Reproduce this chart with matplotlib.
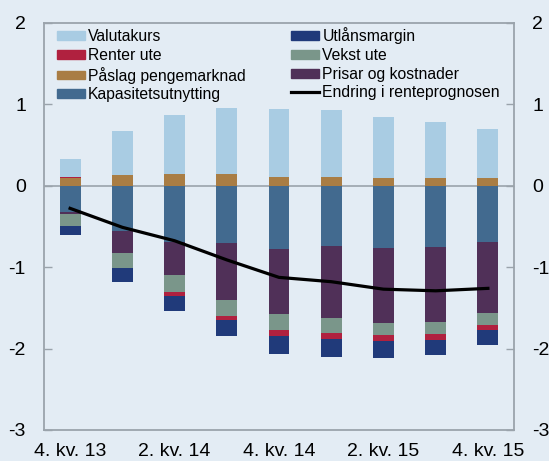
import numpy as np
import matplotlib
matplotlib.use("Agg")
import matplotlib.pyplot as plt
from matplotlib.lines import Line2D
from matplotlib.patches import Patch

plt.rcParams["font.family"] = ["Liberation Sans", "DejaVu Sans"]

# ---- data ----
quarters = ["4. kv. 13", "1. kv. 14", "2. kv. 14", "3. kv. 14", "4. kv. 14",
            "1. kv. 15", "2. kv. 15", "3. kv. 15", "4. kv. 15"]
tick_idx = [0, 2, 4, 6, 8]
tick_labels = ["4. kv. 13", "2. kv. 14", "4. kv. 14", "2. kv. 15", "4. kv. 15"]

valutakurs = [0.215, 0.547, 0.721, 0.815, 0.835, 0.823, 0.753, 0.691, 0.602]
renter_pos = [0.012, 0.0, 0.0, 0.0, 0.0, 0.0, 0.0, 0.0, 0.0]
paaslag = [0.10, 0.13, 0.145, 0.145, 0.112, 0.104, 0.096, 0.096, 0.096]
kapasitet = [-0.325, -0.555, -0.687, -0.707, -0.776, -0.743, -0.764, -0.748, -0.69]
prisar = [-0.025, -0.275, -0.409, -0.696, -0.804, -0.887, -0.916, -0.925, -0.876]
vekst = [-0.15, -0.18, -0.204, -0.197, -0.19, -0.18, -0.157, -0.143, -0.14]
renter_neg = [0.0, 0.0, -0.05, -0.05, -0.08, -0.076, -0.073, -0.074, -0.069]
utlaan = [-0.11, -0.175, -0.19, -0.2, -0.22, -0.214, -0.205, -0.19, -0.185]
renteprognose = [-0.277, -0.51, -0.675, -0.91, -1.125, -1.178, -1.27, -1.29, -1.26]

c_valuta = "#a9cce3"
c_renter = "#b0213f"
c_paaslag = "#a97d44"
c_kap = "#426a8f"
c_utlaan = "#203a7a"
c_vekst = "#7a968a"
c_prisar = "#503058"
bg = "#e3ecf4"
grey = "#9aa3ab"

x = np.arange(len(quarters))
w = 0.4

fig = plt.figure(figsize=(5.49, 4.61), dpi=100, facecolor=bg)
ax = fig.add_axes([44 / 549, 31 / 461, 470 / 549, 407 / 461], facecolor=bg)

ax.axhline(0, color=grey, lw=1.2, zorder=0)

# positive stack
pos = np.zeros(len(x))
for vals, col in [(paaslag, c_paaslag), (renter_pos, c_renter), (valutakurs, c_valuta)]:
    ax.bar(x, vals, w, bottom=pos, color=col, zorder=2)
    pos += np.array(vals)

# negative stack
neg = np.zeros(len(x))
for vals, col in [(kapasitet, c_kap), (prisar, c_prisar), (vekst, c_vekst),
                  (renter_neg, c_renter), (utlaan, c_utlaan)]:
    ax.bar(x, vals, w, bottom=neg, color=col, zorder=2)
    neg += np.array(vals)

ax.plot(x, renteprognose, color="black", lw=2.3, zorder=3)

ax.set_xlim(-0.5, 8.5)
ax.set_ylim(-3, 2)
ax.set_yticks([-3, -2, -1, 0, 1, 2])
ax.set_yticklabels(["-3", "-2", "-1", "0", "1", "2"])
ax.set_xticks(tick_idx)
ax.set_xticklabels(tick_labels)
ax.tick_params(axis="y", direction="in", length=6, width=1, color=grey,
               labelsize=14, pad=13, left=True, right=True,
               labelleft=True, labelright=True)
ax.tick_params(axis="x", length=0, labelsize=14, pad=9.5)
for s in ax.spines.values():
    s.set_color(grey)
    s.set_linewidth(1.3)

handles = [
    Patch(color=c_valuta, label="Valutakurs"),
    Patch(color=c_renter, label="Renter ute"),
    Patch(color=c_paaslag, label="Påslag pengemarknad"),
    Patch(color=c_kap, label="Kapasitetsutnytting"),
    Patch(color=c_utlaan, label="Utlånsmargin"),
    Patch(color=c_vekst, label="Vekst ute"),
    Patch(color=c_prisar, label="Prisar og kostnader"),
    Line2D([], [], color="black", lw=2.3, label="Endring i renteprognosen"),
]
ax.legend(handles=handles, ncol=2, loc="upper left",
          bbox_to_anchor=(0.021, 0.9975),
          frameon=False, fontsize=11.3, handlelength=1.78, handleheight=0.5,
          handletextpad=0.2, labelspacing=0.24, columnspacing=2.9,
          borderaxespad=0.0, borderpad=0.2)

fig.savefig("out.png", dpi=100, facecolor=bg)
